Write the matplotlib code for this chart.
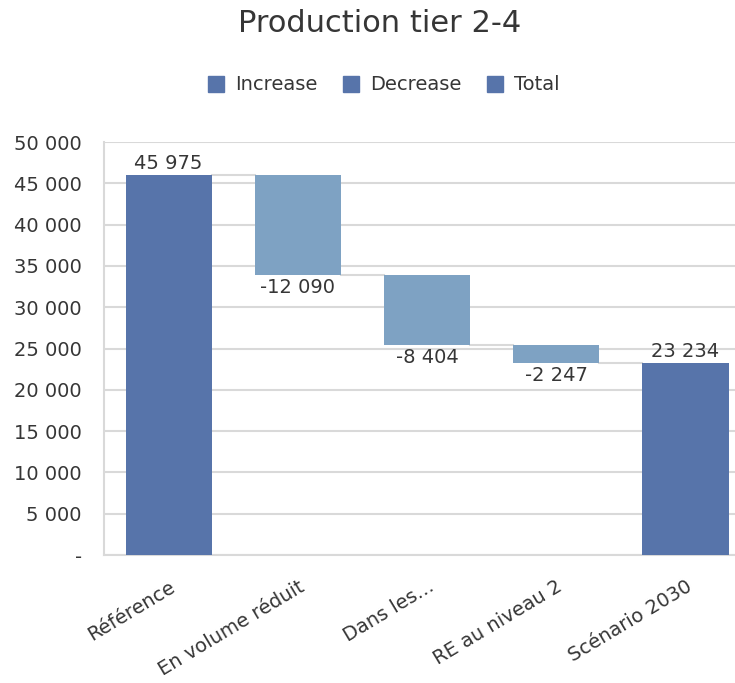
import numpy as np
import matplotlib.pyplot as plt
import matplotlib.transforms as mtransforms
from matplotlib.patches import Patch

plt.rcParams['font.family'] = ['DejaVu Sans']

categories = ['Référence', 'En volume réduit', 'Dans les...', 'RE au niveau 2', 'Scénario 2030']
values = [45975, -12090, -8404, -2247, 23234]
is_total = [True, False, False, False, True]

c_total = '#5774aa'
c_dec = '#7ea2c3'
c_text = '#363636'
c_grid = '#d9d9d9'

fig = plt.figure(figsize=(7.35, 6.83), dpi=100)
ax = fig.add_axes([104 / 735, 1 - 555 / 683, 1 - 104 / 735, 413 / 683])

x = np.arange(len(categories))
bottoms, tops = [], []
running = 0
for v, tot in zip(values, is_total):
    if tot:
        b, t = 0, v
        running = v
    else:
        b, t = running + v, running
        running += v
    bottoms.append(b)
    tops.append(t)

w = 0.667
for i in range(len(categories)):
    col = c_total if is_total[i] else c_dec
    ax.bar(x[i], tops[i] - bottoms[i], bottom=bottoms[i], width=w, color=col, zorder=3)
    lab = f'{abs(values[i]):,}'.replace(',', ' ')
    if values[i] < 0:
        ax.text(x[i], bottoms[i] - 400, '-' + lab, ha='center', va='top', fontsize=14, color=c_text)
    else:
        ax.text(x[i], tops[i] + 250, lab, ha='center', va='bottom', fontsize=14, color=c_text)

# connectors
for i in range(len(categories) - 1):
    lvl = tops[i] if (is_total[i] or values[i] >= 0) else bottoms[i]
    ax.plot([x[i] + w / 2, x[i + 1] - w / 2], [lvl, lvl], color=c_grid, lw=1.5, zorder=2)

ax.set_xlim(-0.5, 4.5 - 15 / 129)
ax.set_ylim(0, 50000)
ax.set_yticks(np.arange(0, 50001, 5000))
ax.set_yticklabels(['-'] + [f'{v:,}'.replace(',', ' ') for v in range(5000, 50001, 5000)])
ax.yaxis.grid(True, color=c_grid, lw=1.5, zorder=0)
ax.set_axisbelow(True)
ax.set_xticks(x)
ax.set_xticklabels(categories, rotation=31, ha='right', rotation_mode='anchor')
shift = mtransforms.ScaledTranslation(-6 / 100, -2 / 100, fig.dpi_scale_trans)
for t in ax.get_xticklabels():
    t.set_transform(t.get_transform() + shift)
ax.tick_params(axis='both', length=0, labelsize=14, colors=c_text)
ax.tick_params(axis='y', pad=16)
ax.tick_params(axis='x', pad=16)
for s in ['top', 'right']:
    ax.spines[s].set_visible(False)
for s in ['left', 'bottom']:
    ax.spines[s].set_color(c_grid)
    ax.spines[s].set_linewidth(1.5)

handles = [Patch(color=c_total, label=l) for l in ['Increase', 'Decrease', 'Total']]
fig.legend(handles=handles, loc='center', bbox_to_anchor=(0.522, 1 - 85 / 683), ncol=3,
           frameon=False, fontsize=14, labelcolor=c_text, handlelength=0.85, handleheight=0.85,
           handletextpad=0.55, columnspacing=1.3)
fig.text(0.516, 1 - 24 / 683, 'Production tier 2-4', ha='center', va='center', fontsize=22, color=c_text)

fig.savefig('out.png', dpi=100)
